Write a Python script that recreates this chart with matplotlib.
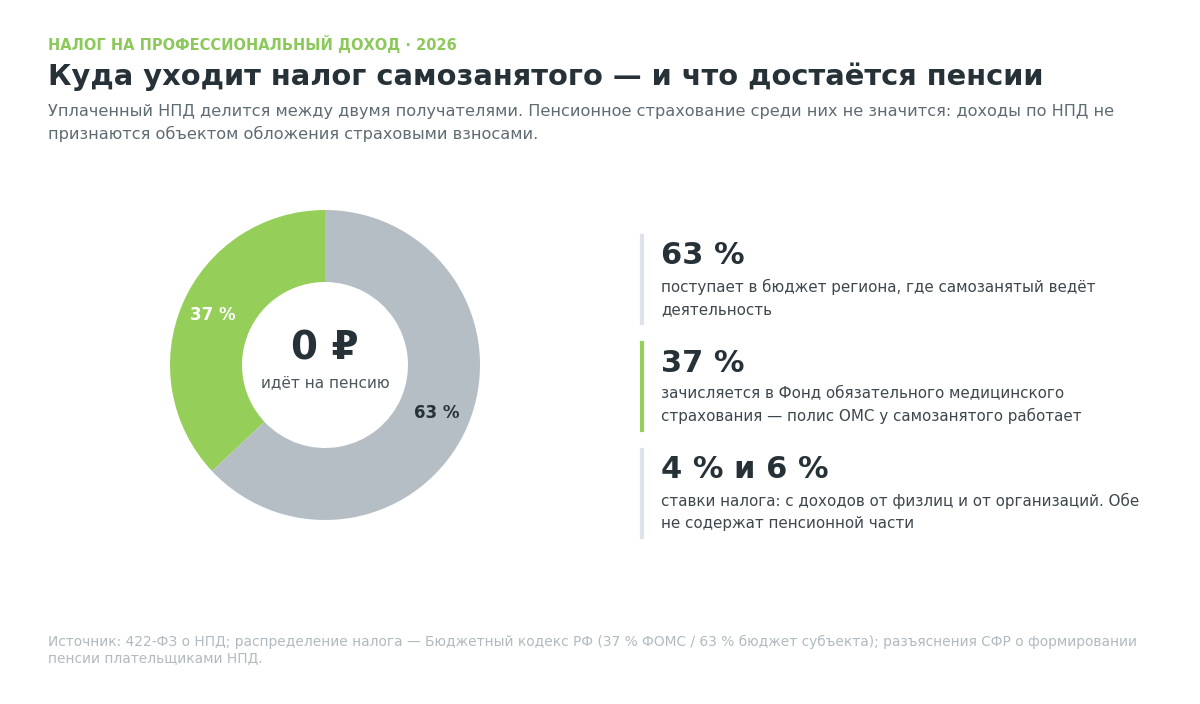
import matplotlib.pyplot as plt

shares = [37, 63]
share_labels = ["37 %", "63 %"]
colors = ["#95cf5a", "#b4bec4"]

cards = [
    ("63 %", "поступает в бюджет региона, где самозанятый ведёт\nдеятельность", "#dde3e8"),
    ("37 %", "зачисляется в Фонд обязательного медицинского\nстрахования — полис ОМС у самозанятого работает", "#95cf5a"),
    ("4 % и 6 %", "ставки налога: с доходов от физлиц и от организаций. Обе\nне содержат пенсионной части", "#dde3e8"),
]

W, H = 1200, 704
fig = plt.figure(figsize=(12, 7.04), dpi=100)
fig.patch.set_facecolor("white")

def px(x, y):
    return x / W, 1 - y / H

fig.text(*px(48, 44), "НАЛОГ НА ПРОФЕССИОНАЛЬНЫЙ ДОХОД · 2026", color="#8cc85a",
         fontsize=10.5, fontweight="bold", va="center")
fig.text(*px(48, 77), "Куда уходит налог самозанятого — и что достаётся пенсии",
         color="#263238", fontsize=20.8, fontweight="bold", va="center")
fig.text(*px(48, 123), "Уплаченный НПД делится между двумя получателями. Пенсионное страхование среди них не значится: доходы по НПД не\nпризнаются объектом обложения страховыми взносами.",
         color="#5f6b73", fontsize=11.6, va="center", linespacing=1.45)

ax = fig.add_axes([(325 - 160) / W, 1 - (365 + 160) / H, 320 / W, 320 / H])
ax.set_zorder(3)
ax.pie(shares, colors=colors, startangle=90, counterclock=True,
       wedgeprops=dict(width=0.45, edgecolor="none"), radius=155 / 160)
ax.set_xlim(-1, 1)
ax.set_ylim(-1, 1)
ax.set_aspect("equal")
ax.text(-0.70, 0.31, share_labels[0], color="white", fontsize=12, fontweight="bold", ha="center", va="center")
ax.text(0.70, -0.30, share_labels[1], color="#263238", fontsize=12, fontweight="bold", ha="center", va="center")
ax.text(0, 0.10, "0 ₽", color="#263238", fontsize=28, fontweight="bold", ha="center", va="center")
ax.text(0, -0.11, "идёт на пенсию", color="#4a555c", fontsize=11, ha="center", va="center")

for i, (head, body, bar) in enumerate(cards):
    top = 236 + i * 107
    fig.add_artist(plt.Line2D([642 / W, 642 / W], [1 - top / H, 1 - (top + 87) / H],
                              color=bar, lw=3, transform=fig.transFigure))
    fig.text(*px(661, top + 20), head, color="#263238", fontsize=22, fontweight="bold", va="center")
    fig.text(*px(661, top + 62), body, color="#3d474d", fontsize=10.9, va="center", linespacing=1.55)

fig.text(*px(48, 650), "Источник: 422-ФЗ о НПД; распределение налога — Бюджетный кодекс РФ (37 % ФОМС / 63 % бюджет субъекта); разъяснения СФР о формировании\nпенсии плательщиками НПД.",
         color="#b0bac0", fontsize=9.9, va="center", linespacing=1.2)

fig.savefig("out.png", dpi=100, facecolor=fig.get_facecolor())
